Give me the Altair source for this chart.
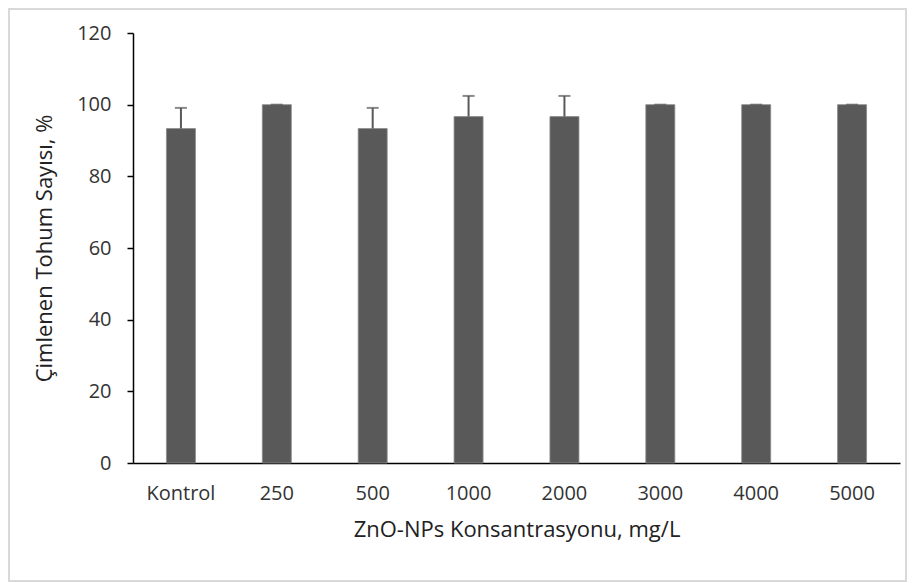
import altair as alt
import pandas as pd

categories = ["Kontrol", "250", "500", "1000", "2000", "3000", "4000", "5000"]
means = [93.33, 100.0, 93.33, 96.67, 96.67, 100.0, 100.0, 100.0]
sds = [5.77, 0.0, 5.77, 5.77, 5.77, 0.0, 0.0, 0.0]
y_ticks = [0, 20, 40, 60, 80, 100, 120]

df = pd.DataFrame({"cat": categories, "mean": means, "sd": sds})
df["upper"] = df["mean"] + df["sd"]

W, H = 767, 430
FONT = "Open Sans"
BAR = "#595959"

x_enc = alt.X(
    "cat:N",
    sort=categories,
    title="ZnO-NPs Konsantrasyonu, mg/L",
    scale=alt.Scale(paddingInner=0.7, paddingOuter=0.35),
    axis=alt.Axis(
        labelAngle=0, ticks=False, domainColor="#000000", domainWidth=1.5,
        labelFont=FONT, labelFontSize=20, labelColor="#333333", labelPadding=20,
        titleFont=FONT, titleFontSize=22, titleFontWeight="normal", titleColor="#222222",
        titlePadding=16,
    ),
)
y_scale = alt.Scale(domain=[0, 120], nice=False)
y_axis = alt.Axis(
    values=y_ticks, grid=False, domainColor="#000000", domainWidth=1.5,
    tickColor="#000000", tickSize=6, tickWidth=1.5,
    labelFont=FONT, labelFontSize=20, labelColor="#333333", labelPadding=16,
    titleFont=FONT, titleFontSize=22, titleFontWeight="normal", titleColor="#222222",
    titlePadding=20,
)

base = alt.Chart(df)

bars = base.mark_bar(color=BAR, stroke="#8a8a8a", strokeWidth=0.8, size=29).encode(
    x=x_enc,
    y=alt.Y("mean:Q", scale=y_scale, axis=y_axis, title="Çimlenen Tohum Sayısı, %"),
)

err = base.mark_rule(color=BAR, strokeWidth=2).encode(
    x=alt.X("cat:N", sort=categories),
    y="mean:Q",
    y2="upper:Q",
)

caps = base.mark_tick(color=BAR, thickness=2, size=12).encode(
    x=alt.X("cat:N", sort=categories),
    y="upper:Q",
)

border = alt.Chart(alt.Data(values=[{"a": 1}])).mark_rect(
    fill=None, stroke="#d9d9d9", strokeWidth=2
).encode(
    x=alt.value(-124),
    x2=alt.value(W + 6),
    y=alt.value(-24),
    y2=alt.value(H + 118),
)

chart = alt.layer(border, bars, err, caps).properties(
    width=W, height=H, padding=0, background="white"
).configure_view(stroke=None)

chart.save("out.html", embed_options={"renderer": "svg", "actions": False})
